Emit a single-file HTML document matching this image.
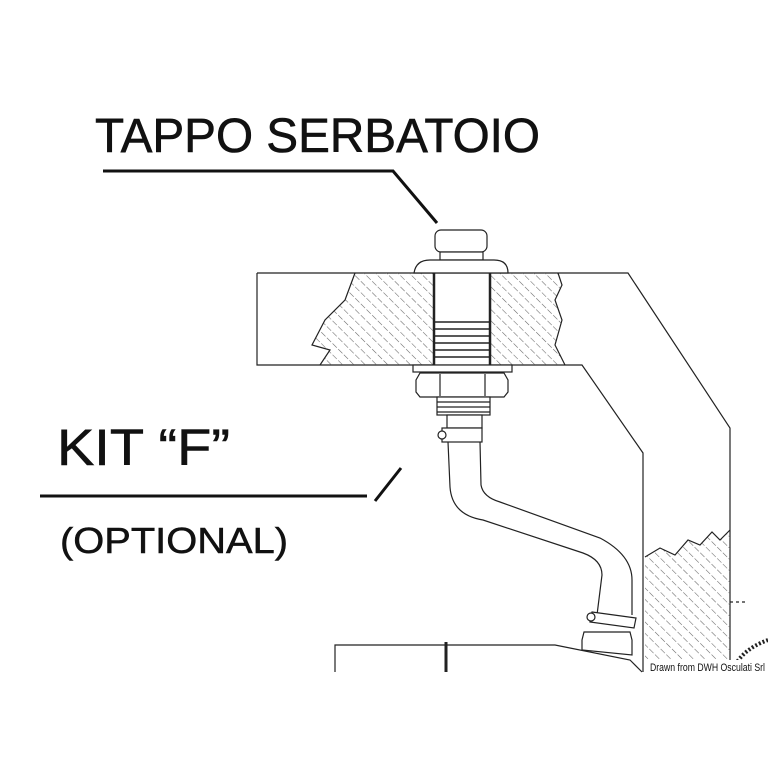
<!DOCTYPE html>
<html><head><meta charset="utf-8"><style>
html,body{margin:0;padding:0;background:#fff;}
svg{display:block;}
text{font-family:"Liberation Sans",sans-serif;fill:#111;}
</style></head><body>
<svg width="768" height="768" viewBox="0 0 768 768" xmlns="http://www.w3.org/2000/svg">
<defs>
<pattern id="h" patternUnits="userSpaceOnUse" width="8" height="8" patternTransform="rotate(-45)">
<line x1="0" y1="0" x2="0" y2="8" stroke="#666" stroke-width="1.1" stroke-dasharray="4 2"/>
</pattern>
</defs>
<rect width="768" height="768" fill="#fff"/>
<!-- labels -->
<text x="95" y="152" font-size="48" textLength="445" lengthAdjust="spacingAndGlyphs" stroke="#111" stroke-width="0.6">TAPPO SERBATOIO</text>
<polyline points="103,171 393,171 437,223" fill="none" stroke="#111" stroke-width="3"/>
<text x="57" y="465" font-size="51" textLength="173" lengthAdjust="spacingAndGlyphs" stroke="#111" stroke-width="0.6">KIT “F”</text>
<line x1="40" y1="496" x2="367" y2="496" stroke="#111" stroke-width="3"/>
<line x1="375" y1="501" x2="401" y2="468" stroke="#111" stroke-width="3"/>
<text x="60" y="553" font-size="36" textLength="228" lengthAdjust="spacingAndGlyphs" stroke="#111" stroke-width="0.5">(OPTIONAL)</text>

<g fill="none" stroke="#222" stroke-width="1.2">
<!-- plate/tank outline -->
<polyline points="257,273 628,273 730,428 730,672"/>
<polyline points="257,273 257,365 582,365 643,453 643,672"/>
<!-- hatched section in plate -->
<path d="M355,273 L345,300 L325,320 L312,345 L330,350 L320,365 L565,365 L555,345 L562,320 L555,300 L562,285 L558,273 Z" fill="url(#h)" stroke="none"/>
<path d="M355,273 L345,300 L325,320 L312,345 L330,350 L320,365 M558,273 L562,285 L555,300 L562,320 L555,345 L565,365"/>
<!-- right hatched -->
<path d="M645,557 L660,548 L675,555 L688,540 L700,545 L712,532 L720,540 L730,530 L730,672 L645,672 Z" fill="url(#h)" stroke="none"/>
<path d="M645,557 L660,548 L675,555 L688,540 L700,545 L712,532 L720,540 L730,530"/>
<line x1="730" y1="602" x2="745" y2="602" stroke-dasharray="3 3"/>
<!-- bolt in plate -->
<rect x="434" y="273" width="56" height="92" fill="#fff"/>
<line x1="434" y1="273" x2="434" y2="365" stroke-width="2.5"/>
<line x1="490" y1="273" x2="490" y2="365" stroke-width="2.5"/>
<g stroke-width="1.6">
<line x1="434" y1="322" x2="490" y2="322"/><line x1="434" y1="329" x2="490" y2="329"/>
<line x1="434" y1="336" x2="490" y2="336"/><line x1="434" y1="343" x2="490" y2="343"/>
<line x1="434" y1="350" x2="490" y2="350"/><line x1="434" y1="357" x2="490" y2="357"/>
</g>
<!-- cap -->
<rect x="435" y="230" width="52" height="22" rx="6" fill="#fff"/>
<rect x="440" y="252" width="43" height="8" fill="#fff"/>
<path d="M414,273 Q416,260 430,260 L494,260 Q508,260 508,273 Z" fill="#fff"/>
<!-- lower washer, nut -->
<rect x="413" y="365" width="99" height="7" fill="#fff"/>
<path d="M420,373 L504,373 L508,380 L508,392 L504,397 L420,397 L416,392 L416,380 Z" fill="#fff"/>
<line x1="440" y1="374" x2="440" y2="396"/><line x1="485" y1="374" x2="485" y2="396"/>
<rect x="437" y="397" width="53" height="18" fill="#fff"/>
<line x1="437" y1="402" x2="490" y2="402"/><line x1="437" y1="407" x2="490" y2="407"/><line x1="437" y1="412" x2="490" y2="412"/>
<rect x="447" y="415" width="35" height="13" fill="#fff"/>
<rect x="442" y="428" width="40" height="14" fill="#fff"/>
<circle cx="442" cy="435" r="4" fill="#fff"/>
<!-- hose -->
<path d="M448,442 L450,487 Q452,515 483,520 L583,553 Q602,560 602,575 L597,615"/>
<path d="M480,442 L481,485 Q483,497 500,502 L600,538 Q632,555 632,580 L632,615"/>
<!-- lower clamp & fitting -->
<path d="M592,612 L636,618 L634,628 L590,622 Z" fill="#fff"/>
<circle cx="591" cy="617" r="4" fill="#fff"/>
<path d="M584,632 L630,632 L632,640 L632,655 L582,650 L582,640 Z" fill="#fff"/>
<!-- bottom box -->
<polyline points="335,672 335,645 555,645 630,660 642,672"/>
<line x1="446" y1="642" x2="446" y2="672" stroke-width="3"/>
<path d="M732,672 Q740,650 768,640" stroke-width="4" stroke-dasharray="2 2"/>
</g>
<rect x="645" y="660" width="123" height="14" fill="#fff"/>
<text x="650" y="671" font-size="11" textLength="115" lengthAdjust="spacingAndGlyphs">Drawn from DWH Osculati Srl</text>
</svg>
</body></html>
